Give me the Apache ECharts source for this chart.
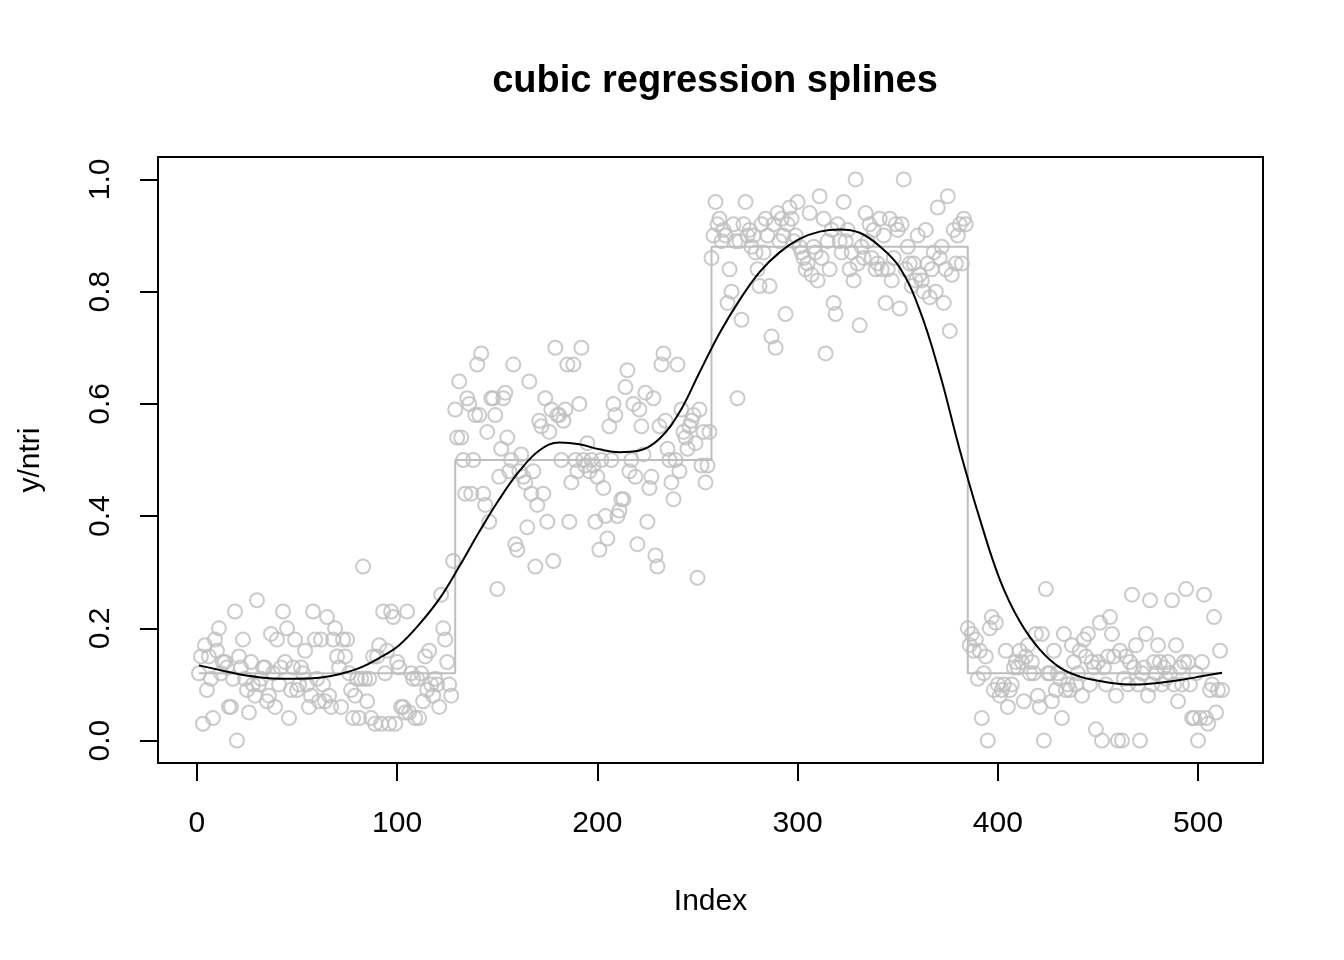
<!DOCTYPE html>
<html>
<head>
<meta charset="utf-8">
<script src="https://cdn.jsdelivr.net/npm/echarts@6/dist/echarts.min.js"></script>
<style>
html,body{margin:0;padding:0;background:#fff;}
#chart{width:1344px;height:960px;}
</style>
</head>
<body>
<div id="chart"></div>
<script>
// Observed proportions, index 1..128
var segA = [
0.12,0.15,0.03,0.17,0.09,0.15,0.11,0.04,0.18,0.16,
0.20,0.12,0.14,0.14,0.13,0.06,0.06,0.11,0.23,0.00,
0.15,0.13,0.18,0.11,0.09,0.05,0.14,0.10,0.08,0.25,
0.10,0.11,0.13,0.13,0.07,0.08,0.19,0.12,0.06,0.18,
0.10,0.13,0.23,0.14,0.20,0.04,0.09,0.13,0.18,0.09,
0.10,0.13,0.12,0.16,0.10,0.06,0.08,0.23,0.18,0.11,
0.07,0.18,0.10,0.07,0.22,0.08,0.06,0.18,0.20,0.15,
0.13,0.06,0.18,0.15,0.18,0.12,0.09,0.04,0.08,0.11,
0.04,0.11,0.31,0.11,0.07,0.11,0.04,0.15,0.03,0.15,
0.17,0.03,0.23,0.12,0.16,0.03,0.23,0.22,0.03,0.14,
0.13,0.06,0.06,0.05,0.23,0.05,0.12,0.11,0.04,0.11,
0.04,0.12,0.07,0.15,0.09,0.16,0.10,0.08,0.11,0.10,
0.06,0.26,0.20,0.18,0.14,0.10,0.08,0.32
];
// index 129..256
var segB = [
0.59,0.54,0.64,0.54,0.50,0.44,0.61,0.60,0.44,0.50,
0.58,0.67,0.58,0.69,0.44,0.42,0.55,0.39,0.61,0.61,
0.58,0.27,0.47,0.52,0.61,0.62,0.54,0.48,0.50,0.67,
0.35,0.34,0.48,0.51,0.47,0.46,0.38,0.64,0.44,0.48,
0.31,0.42,0.57,0.56,0.44,0.61,0.39,0.55,0.59,0.32,
0.70,0.58,0.58,0.50,0.57,0.59,0.67,0.39,0.46,0.67,
0.50,0.48,0.60,0.70,0.50,0.49,0.53,0.48,0.50,0.49,
0.39,0.47,0.34,0.50,0.45,0.40,0.36,0.56,0.50,0.60,
0.58,0.40,0.41,0.43,0.43,0.63,0.66,0.48,0.50,0.60,
0.47,0.35,0.59,0.56,0.51,0.62,0.39,0.45,0.47,0.61,
0.33,0.31,0.56,0.67,0.69,0.57,0.52,0.50,0.46,0.43,
0.50,0.67,0.48,0.59,0.55,0.54,0.52,0.56,0.57,0.58,
0.53,0.29,0.59,0.49,0.55,0.46,0.49,0.55
];
// index 257..384
var segC = [
0.86,0.90,0.96,0.92,0.93,0.89,0.91,0.90,0.78,0.84,
0.80,0.92,0.89,0.61,0.89,0.75,0.92,0.96,0.90,0.91,
0.88,0.90,0.87,0.84,0.81,0.92,0.87,0.93,0.90,0.81,
0.72,0.92,0.70,0.94,0.89,0.93,0.90,0.76,0.92,0.95,
0.93,0.89,0.90,0.96,0.88,0.87,0.86,0.84,0.85,0.94,
0.83,0.88,0.87,0.82,0.97,0.86,0.93,0.69,0.89,0.84,
0.91,0.78,0.76,0.92,0.89,0.87,0.96,0.89,0.91,0.84,
0.87,0.82,1.00,0.85,0.74,0.88,0.86,0.94,0.89,0.92,
0.86,0.91,0.84,0.85,0.93,0.84,0.90,0.78,0.84,0.93,
0.82,0.86,0.92,0.91,0.77,0.92,1.00,0.84,0.88,0.85,
0.81,0.85,0.82,0.90,0.83,0.82,0.80,0.91,0.85,0.79,
0.84,0.87,0.80,0.95,0.86,0.88,0.78,0.84,0.97,0.73,
0.83,0.91,0.85,0.90,0.92,0.85,0.93,0.92
];
// index 385..512
var segD = [
0.20,0.17,0.19,0.16,0.18,0.11,0.16,0.04,0.12,0.15,
0.00,0.20,0.22,0.09,0.21,0.10,0.08,0.09,0.10,0.16,
0.06,0.09,0.10,0.13,0.14,0.13,0.16,0.14,0.07,0.15,
0.17,0.12,0.14,0.12,0.19,0.08,0.06,0.19,0.00,0.27,
0.12,0.12,0.07,0.16,0.09,0.12,0.11,0.04,0.19,0.09,
0.10,0.09,0.17,0.14,0.10,0.12,0.16,0.08,0.18,0.15,
0.19,0.10,0.14,0.13,0.02,0.14,0.21,0.00,0.13,0.10,
0.15,0.22,0.19,0.15,0.08,0.00,0.16,0.00,0.11,0.15,
0.10,0.14,0.26,0.13,0.17,0.10,0.00,0.12,0.13,0.19,
0.08,0.25,0.10,0.14,0.12,0.17,0.14,0.10,0.13,0.11,
0.14,0.12,0.25,0.10,0.17,0.07,0.13,0.10,0.14,0.27,
0.14,0.10,0.04,0.04,0.12,0.00,0.04,0.14,0.26,0.04,
0.03,0.09,0.10,0.22,0.05,0.09,0.16,0.09
];
// true step function
var stepLevels = [0.12, 0.5, 0.88, 0.12];
var stepEnds = [128, 256, 384, 512];
// fitted cubic regression spline
var curveIdx = [1,11,21,31,41,51,61,71,81,91,101,111,121,131,141,151,161,171,181,191,201,211,221,231,241,251,261,271,281,291,301,311,321,331,341,351,361,371,381,391,401,411,421,431,441,451,461,471,481,491,501,512];
var curveVal = [0.134,0.126,0.118,0.113,0.110,0.110,0.112,0.118,0.129,0.147,0.170,0.207,0.252,0.310,0.372,0.430,0.480,0.517,0.531,0.528,0.519,0.514,0.517,0.538,0.585,0.656,0.726,0.785,0.835,0.870,0.894,0.907,0.911,0.905,0.881,0.843,0.767,0.654,0.518,0.395,0.287,0.212,0.162,0.130,0.114,0.106,0.101,0.100,0.103,0.108,0.114,0.121];
var xTicks = [0,100,200,300,400,500];
var yTicks = [0,0.2,0.4,0.6,0.8,1.0];

var obs = segA.concat(segB, segC, segD);
var pts = obs.map(function(v,i){ return [i+1, v]; });
var stepData = [];
var s = 0;
for (var i = 1; i <= stepEnds[stepEnds.length-1]; i++) {
  while (i > stepEnds[s]) s++;
  stepData.push([i, stepLevels[s]]);
}
var curveData = curveIdx.map(function(x,i){ return [x, curveVal[i]]; });

var FONT = 'Liberation Sans, Arial, Helvetica, sans-serif';
var chart = echarts.init(document.getElementById('chart'), null, {renderer:'canvas'});
chart.setOption({
  animation: false,
  backgroundColor: '#ffffff',
  title: {
    text: 'cubic regression splines',
    left: 710, top: 58, textAlign: 'center',
    textStyle: {fontFamily: FONT, fontSize: 38, fontWeight: 'bold', color: '#000'}
  },
  grid: {left: 158, right: 81, top: 157, bottom: 197, containLabel: false, outerBoundsMode: 'none',
         show: true, borderColor: '#000', borderWidth: 2, backgroundColor: 'transparent'},
  xAxis: {
    type: 'value', min: -19.44, max: 532.44,
    name: 'Index', nameLocation: 'middle', nameGap: 124,
    nameTextStyle: {fontFamily: FONT, fontSize: 30, color: '#000'},
    axisLine: {show: false, onZero: false},
    splitLine: {show: false},
    axisTick: {show: true, inside: false, length: 18, customValues: xTicks, lineStyle: {color: '#000', width: 2}},
    axisLabel: {customValues: xTicks, margin: 46, fontFamily: FONT, fontSize: 30, color: '#000'}
  },
  yAxis: {
    type: 'value', min: -0.04, max: 1.04,
    name: 'y/ntri', nameLocation: 'middle', nameGap: 112, nameRotate: 90,
    nameTextStyle: {fontFamily: FONT, fontSize: 30, color: '#000'},
    axisLine: {show: false, onZero: false},
    splitLine: {show: false},
    axisTick: {show: true, inside: false, length: 18, customValues: yTicks, lineStyle: {color: '#000', width: 2}},
    axisLabel: {customValues: yTicks, rotate: 90, margin: 42, fontFamily: FONT, fontSize: 30, color: '#000',
      formatter: function(v){ return v.toFixed(1); }}
  },
  series: [
    {
      type: 'line', data: stepData, step: 'end', showSymbol: false, symbol: 'none',
      lineStyle: {color: '#bebebe', width: 2}, z: 2, silent: true
    },
    {
      type: 'scatter', data: pts, symbol: 'circle', symbolSize: 14,
      itemStyle: {color: 'rgba(0,0,0,0)', borderColor: '#bebebe', borderWidth: 2}, z: 3, silent: true
    },
    {
      type: 'line', data: curveData, smooth: 0.4, showSymbol: false, symbol: 'none',
      lineStyle: {color: '#000', width: 2}, z: 4, silent: true
    }
  ]
});
</script>
</body>
</html>
